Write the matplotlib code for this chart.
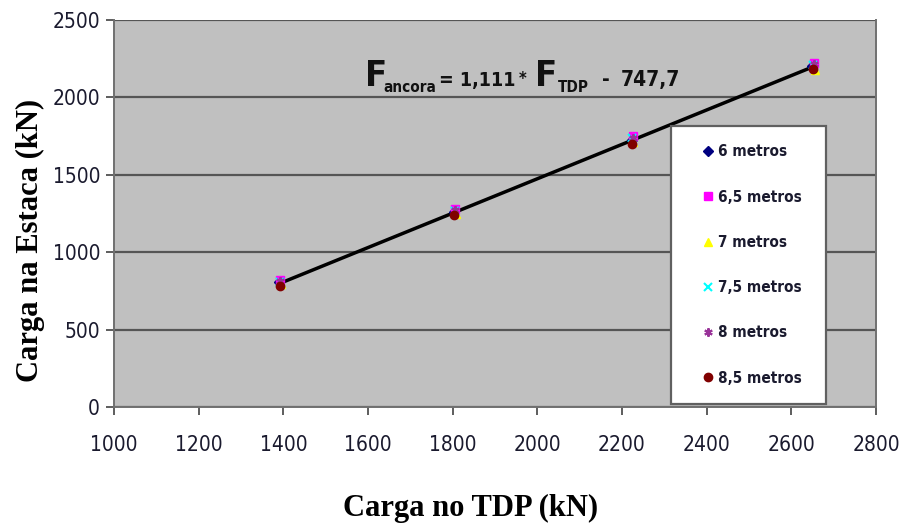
import matplotlib
matplotlib.use('Agg')
import matplotlib.pyplot as plt
import numpy as np

# carga no TDP (kN) e carga na estaca (kN) para cada comprimento de ancora
tdp_6 = [1390, 1804, 2223, 2650]
est_6 = [805, 1262, 1727, 2203]
tdp_65 = [1393, 1806, 2225, 2653]
est_65 = [822, 1280, 1748, 2225]
tdp_7 = [1394, 1807, 2227, 2656]
est_7 = [792, 1248, 1712, 2180]
tdp_75 = [1391, 1805, 2224, 2652]
est_75 = [810, 1268, 1735, 2210]
tdp_8 = [1392, 1806, 2225, 2653]
est_8 = [815, 1272, 1740, 2215]
tdp_85 = [1391, 1804, 2223, 2651]
est_85 = [782, 1238, 1702, 2185]

labels = ['6 metros', '6,5 metros', '7 metros', '7,5 metros', '8 metros', '8,5 metros']

# regressao linear F_ancora = a * F_TDP + b
a = 1.111
b = -747.7

fig = plt.figure(figsize=(8.99, 5.25), dpi=100)
ax = fig.add_axes([0.1268, 0.2248, 0.8476, 0.7371])
ax.set_facecolor('#c0c0c0')

ax.set_xlim(1000, 2800)
ax.set_ylim(0, 2500)
ax.set_xticks(np.arange(1000, 2801, 200))
ax.set_yticks(np.arange(0, 2501, 500))
ax.yaxis.grid(True, color='#555555', linewidth=1.6)
ax.set_axisbelow(True)
for s in ax.spines.values():
    s.set_color('#707070')
    s.set_linewidth(1.4)
ax.spines['top'].set_visible(False)
ax.tick_params(axis='both', direction='out', length=6, width=1.3, color='#505050',
               labelcolor='#1a1a2e', labelsize=15, pad=14)
ax.tick_params(axis='y', pad=4)
for lab in ax.get_xticklabels() + ax.get_yticklabels():
    lab.set_family('DejaVu Sans')
    lab.set_stretch('condensed')

# reta ajustada
xs = np.array([min(tdp_6 + tdp_85), max(tdp_7)])
ax.plot(xs, a * xs + b, color='black', linewidth=2.5, zorder=3)

ms = 6
ax.plot(tdp_6, est_6, 'D', color='#000080', ms=ms - 1, ls='none', label=labels[0], zorder=4)
ax.plot(tdp_65, est_65, 's', color='#ff00ff', ms=ms, ls='none', label=labels[1], zorder=4)
ax.plot(tdp_7, est_7, '^', color='#ffff00', ms=ms, ls='none', label=labels[2], zorder=4)
ax.plot(tdp_75, est_75, 'x', color='#00ffff', ms=ms, mew=1.5, ls='none', label=labels[3], zorder=4)
ax.plot(tdp_8, est_8, marker=(6, 2, 0), color='#993399', ms=ms, mew=1.5, ls='none', label=labels[4], zorder=4)
ax.plot(tdp_85, est_85, 'o', color='#800000', ms=ms, ls='none', label=labels[5], zorder=4)

leg = ax.legend(loc='upper left', bbox_to_anchor=(0.731, 0.726, 0.203, 0.0), mode='expand',
                frameon=True, fancybox=False, shadow=False, framealpha=1, labelspacing=1.98,
                handlelength=2.4, handletextpad=-0.5, borderpad=1.2, borderaxespad=0,
                prop={'family': 'DejaVu Sans', 'stretch': 'condensed', 'weight': 'bold', 'size': 11})
leg.get_frame().set_edgecolor('#606060')
leg.get_frame().set_linewidth(1.6)
leg.get_frame().set_facecolor('white')
for t in leg.get_texts():
    t.set_color('#1a1a2e')

# equacao da reta (posicoes em pixels da figura, linha de base)
eq_parts = [('F', 365, 86, 26), ('ancora', 383, 92, 11), ('= 1,111', 439, 86, 14),
            ('*', 519, 84, 12), ('F', 535, 86, 26), ('TDP', 558, 92, 11),
            ('-', 602, 86, 15), ('747,7', 621, 86, 15)]
for txt, px, py, size in eq_parts:
    fig.text(px / 899, 1 - py / 525, txt, fontsize=size, family='DejaVu Sans',
             stretch='condensed', weight='bold', color='#111111', ha='left', va='baseline')

ax.set_xlabel('Carga no TDP (kN)', family='Liberation Serif', weight='bold', fontsize=22)
ax.set_ylabel('Carga na Estaca (kN)', family='Liberation Serif', weight='bold', fontsize=22)
ax.xaxis.set_label_coords(0.4685, -0.225)
ax.yaxis.set_label_coords(-0.09, 0.4315)

fig.savefig('out.png', dpi=100)
